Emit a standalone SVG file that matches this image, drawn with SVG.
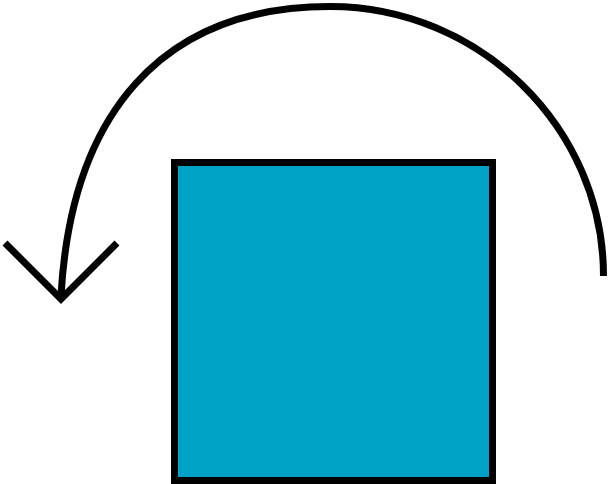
<svg xmlns="http://www.w3.org/2000/svg" width="609" height="484" viewBox="0 0 609 484">
<style>
.line{fill:none;stroke:#000;stroke-width:7}
.box{fill:#00a1c7;stroke:#000;stroke-width:7}
</style>
<rect width="609" height="484" fill="#fff"/>
<g id="square">
<rect class="box" x="174.5" y="162.5" width="318" height="318"/>
</g>
<g id="connectors">
<path class="line" d="M603.5,276 C603.5,128 480,6.5 330,6.5 C160,6.5 71,116 61,296"/>
<polyline class="line" points="5,243 61,299 117,243"/>
</g>
</svg>
